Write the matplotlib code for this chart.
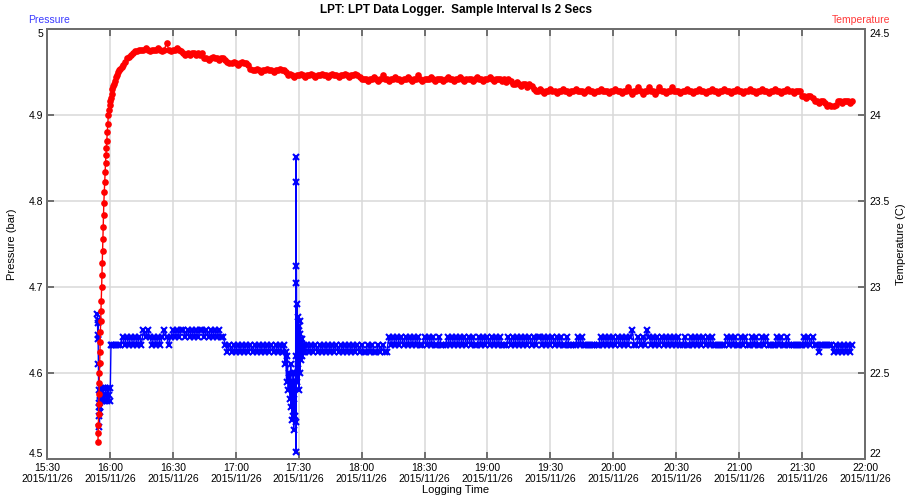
import numpy as np
import pandas as pd
import matplotlib
matplotlib.use("Agg")
import matplotlib.pyplot as plt
import matplotlib.dates as mdates

plt.rcParams["font.family"] = ["Liberation Sans", "DejaVu Sans"]

LOG_START = pd.Timestamp("2015-11-26 15:30")
X_TICKS = ["15:30", "16:00", "16:30", "17:00", "17:30", "18:00", "18:30",
           "19:00", "19:30", "20:00", "20:30", "21:00", "21:30", "22:00"]

# --- temperature (C), minutes after 15:30 ---
# warm-up right after the logger was switched on
TEMP_RAMP_MIN = [24.3, 24.4, 24.5, 24.6, 24.7, 24.8, 24.9, 25.0, 25.1, 25.2, 25.3,
                 25.45, 25.6, 25.75, 25.9, 26.05, 26.2, 26.35, 26.5, 26.65, 26.8, 26.95,
                 27.1, 27.3, 27.5, 27.7, 27.9, 28.1, 28.3, 28.5, 28.75, 29.0,
                 29.25, 29.5, 29.8, 30.1, 30.4, 30.8, 31.2, 31.6, 32.0, 32.5,
                 33.0, 33.5, 34.0, 34.5, 35.0, 35.6, 36.2, 37.0, 38.0, 39.0, 40.0, 41.0]
TEMP_RAMP_C = [22.10, 22.15, 22.20, 22.26, 22.32, 22.38, 22.44, 22.50, 22.56, 22.62, 22.68,
               22.74, 22.80, 22.86, 22.92, 23.00, 23.07, 23.14, 23.21, 23.28, 23.35, 23.42,
               23.49, 23.55, 23.61, 23.67, 23.72, 23.77, 23.81, 23.85, 23.90, 23.95,
               24.00, 24.03, 24.06, 24.08, 24.10, 24.125, 24.15, 24.17, 24.18, 24.20,
               24.22, 24.23, 24.25, 24.26, 24.27, 24.28, 24.29, 24.31, 24.33, 24.34, 24.35, 24.36]

# one reading per minute from 16:12 on
TEMP_FIRST_MIN = 42
TEMP_C = [
    24.37, 24.37, 24.38, 24.38, 24.38, 24.39, 24.38, 24.37, 24.38, 24.38,  # 16:12
    24.38, 24.39, 24.38, 24.37, 24.38, 24.42, 24.38, 24.37, 24.38, 24.38,
    24.39, 24.38, 24.37, 24.36, 24.35, 24.36, 24.35, 24.36, 24.36, 24.35,
    24.36, 24.35, 24.36, 24.33, 24.33, 24.32, 24.33, 24.34, 24.33, 24.33,
    24.32, 24.33, 24.33, 24.32, 24.31, 24.30, 24.30, 24.31, 24.30, 24.29,
    24.30, 24.31, 24.30, 24.30, 24.29, 24.27, 24.26, 24.26, 24.27, 24.26,  # 17:02
    24.25, 24.26, 24.26, 24.27, 24.26, 24.26, 24.25, 24.26, 24.26, 24.27,
    24.26, 24.26, 24.25, 24.23, 24.24, 24.23, 24.22, 24.23, 24.23, 24.24,
    24.23, 24.22, 24.23, 24.23, 24.24, 24.23, 24.22, 24.23, 24.23, 24.24,
    24.23, 24.23, 24.22, 24.23, 24.24, 24.23, 24.23, 24.22, 24.23, 24.23,
    24.24, 24.23, 24.22, 24.23, 24.23, 24.24, 24.23, 24.22, 24.21, 24.21,
    24.21, 24.20, 24.21, 24.21, 24.22, 24.21, 24.20, 24.21, 24.23, 24.21,  # 18:02
    24.21, 24.20, 24.21, 24.21, 24.22, 24.21, 24.21, 24.20, 24.21, 24.21,
    24.22, 24.21, 24.20, 24.21, 24.21, 24.23, 24.21, 24.20, 24.21, 24.21,
    24.21, 24.22, 24.21, 24.20, 24.21, 24.21, 24.21, 24.20, 24.21, 24.22,
    24.21, 24.21, 24.20, 24.21, 24.21, 24.22, 24.21, 24.20, 24.21, 24.21,
    24.21, 24.20, 24.21, 24.22, 24.21, 24.21, 24.20, 24.21, 24.21, 24.22,  # 18:52
    24.21, 24.20, 24.21, 24.21, 24.21, 24.20, 24.21, 24.19, 24.21, 24.20,
    24.18, 24.18, 24.19, 24.18, 24.17, 24.18, 24.18, 24.16, 24.18, 24.17,
    24.15, 24.14, 24.14, 24.15, 24.14, 24.13, 24.14, 24.14, 24.15, 24.14,
    24.14, 24.13, 24.14, 24.14, 24.15, 24.14, 24.14, 24.13, 24.14, 24.14,
    24.15, 24.14, 24.14, 24.14, 24.13, 24.14, 24.15, 24.14, 24.14, 24.13,
    24.14, 24.14, 24.15, 24.14, 24.14, 24.14, 24.13, 24.14, 24.14, 24.15,  # 19:52
    24.14, 24.14, 24.13, 24.14, 24.14, 24.16, 24.14, 24.12, 24.14, 24.14,
    24.16, 24.14, 24.12, 24.14, 24.14, 24.16, 24.14, 24.14, 24.12, 24.14,
    24.16, 24.14, 24.14, 24.13, 24.14, 24.14, 24.16, 24.14, 24.14, 24.14,
    24.13, 24.14, 24.14, 24.15, 24.14, 24.14, 24.13, 24.14, 24.14, 24.15,
    24.14, 24.14, 24.13, 24.14, 24.14, 24.15, 24.14, 24.14, 24.13, 24.14,
    24.14, 24.15, 24.14, 24.14, 24.13, 24.14, 24.14, 24.15, 24.14, 24.14,  # 20:52
    24.13, 24.14, 24.14, 24.15, 24.14, 24.14, 24.13, 24.14, 24.14, 24.15,
    24.14, 24.14, 24.13, 24.14, 24.14, 24.15, 24.14, 24.14, 24.13, 24.14,
    24.14, 24.15, 24.14, 24.14, 24.13, 24.14, 24.14, 24.14, 24.11, 24.11,
    24.10, 24.11, 24.11, 24.10, 24.08, 24.08, 24.07, 24.08, 24.08, 24.07,
    24.05, 24.06, 24.05, 24.05, 24.06, 24.08, 24.08, 24.07, 24.08, 24.08,  # 21:42
    24.08, 24.07, 24.08,
]

# --- pressure (bar), minutes after 15:30 ---
PRES_START_MIN = [24.0, 24.1, 24.2, 24.3, 24.4, 24.5, 24.6, 24.7, 24.8, 24.9, 25.0,
                  25.1, 25.2, 25.3, 25.5, 25.8, 26.2, 26.6, 27.0, 27.4, 27.8, 28.2,
                  28.6, 29.0, 29.4, 29.8, 30.2, 30.5]
PRES_START_BAR = [4.669, 4.658, 4.644, 4.662, 4.64, 4.61, 4.58, 4.56, 4.55, 4.565, 4.537,
                  4.555, 4.56, 4.575, 4.567, 4.583, 4.567, 4.583, 4.575, 4.567, 4.583, 4.575,
                  4.567, 4.583, 4.575, 4.567, 4.583, 4.633]

# one reading per minute, 16:01 - 17:22
PRES_A_FIRST_MIN = 31
PRES_A_BAR = [
    4.633, 4.633, 4.633, 4.633, 4.633, 4.642, 4.633, 4.642, 4.633, 4.642,
    4.633, 4.642, 4.633, 4.642, 4.633, 4.650, 4.642, 4.650, 4.642, 4.633,
    4.642, 4.633, 4.642, 4.633, 4.642, 4.650, 4.642, 4.633, 4.642, 4.650,
    4.642, 4.650, 4.642, 4.650, 4.650, 4.642, 4.650, 4.642, 4.650, 4.642,
    4.650, 4.642, 4.650, 4.650, 4.642, 4.650, 4.642, 4.650, 4.642, 4.650,
    4.642, 4.650, 4.642, 4.642, 4.633, 4.625, 4.633, 4.625, 4.633, 4.625,
    4.633, 4.625, 4.633, 4.625, 4.633, 4.625, 4.633, 4.625, 4.633, 4.625,
    4.633, 4.625, 4.633, 4.625, 4.633, 4.625, 4.633, 4.625, 4.633, 4.625,
    4.633, 4.625,
]

# disturbance around 17:28
PRES_SPIKE_MIN = [112.6, 113.0, 113.4, 113.8, 114.2, 114.6, 115.0, 115.4, 115.8, 116.2,
                  116.4, 116.6, 116.8, 117.0, 117.2, 117.4, 117.6, 117.8, 118.0, 118.2,
                  118.4, 118.55, 118.7, 118.75, 118.8, 118.85, 118.9, 118.95, 119.0, 119.2,
                  119.4, 119.6, 119.8, 120.0, 120.2, 120.4, 120.6, 120.8, 121.0, 121.2,
                  121.4, 121.6, 121.8, 122.0, 122.4]
PRES_SPIKE_BAR = [4.625, 4.633, 4.61, 4.625, 4.59, 4.62, 4.58, 4.60, 4.57, 4.61,
                  4.56, 4.59, 4.545, 4.58, 4.55, 4.60, 4.534, 4.57, 4.59, 4.55,
                  4.60, 4.62, 4.851, 4.822, 4.508, 4.543, 4.724, 4.705, 4.60, 4.68,
                  4.59, 4.665, 4.61, 4.655, 4.58, 4.645, 4.60, 4.66, 4.615, 4.64,
                  4.62, 4.64, 4.633, 4.625, 4.633]

# one reading per minute, 17:33 - 21:54
PRES_B_FIRST_MIN = 123
PRES_B_BAR = [
    4.625, 4.633, 4.625, 4.633, 4.625, 4.633, 4.625, 4.633, 4.625, 4.633,
    4.625, 4.633, 4.625, 4.633, 4.625, 4.633, 4.625, 4.633, 4.625, 4.633,
    4.625, 4.633, 4.625, 4.633, 4.625, 4.633, 4.625, 4.633, 4.625, 4.625,
    4.633, 4.625, 4.633, 4.625, 4.625, 4.633, 4.625, 4.633, 4.625, 4.625,
    4.642, 4.633, 4.642, 4.633, 4.642, 4.633, 4.642, 4.633, 4.642, 4.633,
    4.642, 4.633, 4.642, 4.633, 4.642, 4.633, 4.633, 4.642, 4.633, 4.642,
    4.633, 4.642, 4.633, 4.633, 4.642, 4.633, 4.633, 4.633, 4.642, 4.633,
    4.642, 4.633, 4.642, 4.633, 4.642, 4.633, 4.642, 4.633, 4.642, 4.633,
    4.642, 4.633, 4.633, 4.642, 4.633, 4.642, 4.633, 4.642, 4.633, 4.642,
    4.633, 4.642, 4.633, 4.642, 4.633, 4.633, 4.633, 4.642, 4.633, 4.642,
    4.633, 4.642, 4.633, 4.642, 4.633, 4.642, 4.633, 4.642, 4.633, 4.642,
    4.633, 4.642, 4.642, 4.633, 4.642, 4.633, 4.642, 4.633, 4.642, 4.633,
    4.642, 4.633, 4.642, 4.633, 4.633, 4.642, 4.633, 4.633, 4.633, 4.633,
    4.642, 4.633, 4.642, 4.633, 4.633, 4.633, 4.633, 4.633, 4.633, 4.633,
    4.633, 4.642, 4.633, 4.642, 4.633, 4.642, 4.633, 4.642, 4.633, 4.642,
    4.633, 4.642, 4.633, 4.642, 4.633, 4.642, 4.650, 4.633, 4.633, 4.642,
    4.633, 4.642, 4.633, 4.650, 4.642, 4.633, 4.642, 4.633, 4.642, 4.633,
    4.642, 4.633, 4.642, 4.633, 4.642, 4.633, 4.642, 4.633, 4.642, 4.633,
    4.633, 4.642, 4.633, 4.633, 4.642, 4.633, 4.642, 4.633, 4.642, 4.633,
    4.642, 4.633, 4.642, 4.633, 4.642, 4.633, 4.633, 4.633, 4.633, 4.633,
    4.633, 4.642, 4.633, 4.642, 4.633, 4.642, 4.633, 4.633, 4.642, 4.633,
    4.642, 4.633, 4.633, 4.642, 4.633, 4.642, 4.633, 4.633, 4.642, 4.633,
    4.642, 4.633, 4.633, 4.633, 4.633, 4.642, 4.633, 4.642, 4.633, 4.633,
    4.642, 4.633, 4.633, 4.633, 4.633, 4.633, 4.633, 4.633, 4.642, 4.633,
    4.642, 4.633, 4.642, 4.633, 4.633, 4.625, 4.633, 4.633, 4.633, 4.633,
    4.633, 4.633, 4.625, 4.633, 4.625, 4.633, 4.625, 4.633, 4.625, 4.633,
    4.625, 4.633,
]


def to_time(minutes):
    return LOG_START + pd.to_timedelta(np.asarray(minutes, dtype=float), unit="min")


def per_minute(first_min, values):
    return to_time(first_min + np.arange(len(values)))


temp_t = to_time(TEMP_RAMP_MIN).append(per_minute(TEMP_FIRST_MIN, TEMP_C))
temp_v = TEMP_RAMP_C + TEMP_C

pres_t = (to_time(PRES_START_MIN)
          .append(per_minute(PRES_A_FIRST_MIN, PRES_A_BAR))
          .append(to_time(PRES_SPIKE_MIN))
          .append(per_minute(PRES_B_FIRST_MIN, PRES_B_BAR)))
pres_v = PRES_START_BAR + PRES_A_BAR + PRES_SPIKE_BAR + PRES_B_BAR

SPINE = "#6e6e6e"
TICK_FS = 7.5

fig = plt.figure(figsize=(9.09, 5.0), dpi=100)
ax = fig.add_axes([47 / 909, 41 / 500, 818 / 909, 430 / 500])
ax2 = ax.twinx()

ax.plot(pres_t, pres_v, color="#0000ff", linewidth=1.0, marker="x",
        markersize=5, markeredgewidth=1.5, zorder=3)
ax2.plot(temp_t, temp_v, color="#ff0000", linewidth=1.0, marker="o",
         markersize=4.8, markeredgewidth=0, zorder=3)

t0 = pd.Timestamp("2015-11-26 " + X_TICKS[0])
t1 = pd.Timestamp("2015-11-26 " + X_TICKS[-1])
ax.set_xlim(t0, t1)
ax.set_xticks([pd.Timestamp("2015-11-26 " + s) for s in X_TICKS])
ax.xaxis.set_major_formatter(mdates.DateFormatter("%H:%M\n%Y/%m/%d"))

ax.set_ylim(4.5, 5.0)
ax.set_yticks([4.5, 4.6, 4.7, 4.8, 4.9, 5.0])
ax.set_yticklabels(["4.5", "4.6", "4.7", "4.8", "4.9", "5"])
ax2.set_ylim(22, 24.5)
ax2.set_yticks([22, 22.5, 23, 23.5, 24, 24.5])
ax2.set_yticklabels(["22", "22.5", "23", "23.5", "24", "24.5"])

# end labels sit just inside the frame, like the logger software draws them
for a in (ax, ax2):
    labels = a.get_yticklabels()
    labels[0].set_verticalalignment("bottom")
    labels[-1].set_verticalalignment("top")

ax.grid(True, color="#d9d9d9", linewidth=1.1)
ax.set_axisbelow(True)

for a in (ax, ax2):
    for sp in a.spines.values():
        sp.set_color(SPINE)
        sp.set_linewidth(1.4)
ax.tick_params(axis="x", direction="in", length=5, width=1.4, color=SPINE,
               top=True, labelsize=TICK_FS, pad=3)
ax.tick_params(axis="y", direction="in", length=5, width=1.4, color=SPINE,
               labelsize=TICK_FS, pad=3)
ax2.tick_params(axis="y", direction="in", length=5, width=1.4, color=SPINE,
                labelsize=TICK_FS, pad=3)
for lbl in ax.get_xticklabels():
    lbl.set_linespacing(1.1)

ax.set_xlabel("Logging Time", fontsize=8, labelpad=1)
ax.set_ylabel("Pressure (bar)", fontsize=8, labelpad=8)
ax2.set_ylabel("Temperature (C)", fontsize=8, labelpad=5)

fig.text(0.5017, 1 - 10 / 500, "LPT: LPT Data Logger.  Sample Interval Is 2 Secs",
         ha="center", va="center", fontsize=8.5, fontweight="bold")
fig.text(28 / 909, 1 - 20 / 500, "Pressure", color="#3a3aff",
         ha="left", va="center", fontsize=7.5)
fig.text(890 / 909, 1 - 20 / 500, "Temperature", color="#ff3a3a",
         ha="right", va="center", fontsize=7.5)

fig.savefig("out.png", dpi=100)
